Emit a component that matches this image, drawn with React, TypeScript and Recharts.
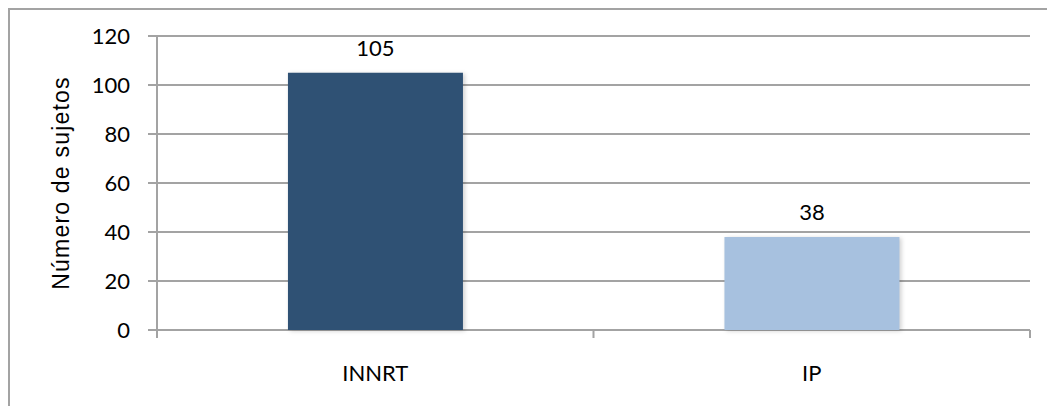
import React from "react";
import { BarChart, Bar, XAxis, YAxis, CartesianGrid, Cell, LabelList, Label } from "recharts";

const categories = ["INNRT", "IP"];
const subjects = [105, 38];
const barColors = ["#2F5174", "#A7C1DF"];
const yTicks = [0, 20, 40, 60, 80, 100, 120];
const yTitle = "Número de sujetos";

const data = categories.map((name, i) => ({ name, value: subjects[i] }));

const GRID = "#A3A3A3";
const FONT = "Lato, 'Open Sans', sans-serif";

const YTitle = (props: any) => {
  const vb = props.viewBox || {};
  const cy = vb.y + vb.height / 2;
  const cx = 61;
  return (
    <text
      x={cx}
      y={cy}
      transform={`rotate(-90, ${cx}, ${cy})`}
      textAnchor="middle"
      dominantBaseline="central"
      fontFamily="'Liberation Sans', Arial, sans-serif"
      fontSize={23}
      letterSpacing={1.2}
      fill="#000"
    >
      {yTitle}
    </text>
  );
};

// Category tick: boundary marks on both sides of the band, label in the middle
const CategoryTick = (props: any) => {
  const { x, y, payload, index } = props;
  const half = payload?.offset ?? 0;
  const last = index === categories.length - 1;
  return (
    <g>
      <line x1={x - half} y1={y} x2={x - half} y2={y + 8} stroke={GRID} strokeWidth={2} />
      {last && <line x1={x + half} y1={y} x2={x + half} y2={y + 8} stroke={GRID} strokeWidth={2} />}
      <text
        x={x}
        y={y + 35}
        dy="0.71em"
        textAnchor="middle"
        fontFamily={FONT}
        fontSize={22}
        fill="#000"
      >
        {payload.value}
      </text>
    </g>
  );
};

export default function App() {
  return (
    <div style={{ width: 1055, height: 414, margin: -8, overflow: "hidden", background: "#fff" }}>
      <BarChart
        width={1055}
        height={414}
        data={data}
        margin={{ top: 36, right: 25, bottom: 44, left: 57 }}
        barCategoryGap="30%"
      >
        {/* outer frame; its right and bottom edges fall outside the canvas */}
        <rect x={9} y={9} width={1200} height={600} fill="none" stroke={GRID} strokeWidth={2} />
        <CartesianGrid vertical={false} stroke={GRID} strokeWidth={2} />
        <XAxis
          dataKey="name"
          height={40}
          interval={0}
          axisLine={false}
          tickLine={false}
          tickSize={0}
          tickMargin={0}
          tick={CategoryTick}
        />
        <YAxis
          width={100}
          domain={[0, 120]}
          ticks={yTicks}
          interval={0}
          axisLine={{ stroke: GRID, strokeWidth: 2 }}
          tickLine={{ stroke: GRID, strokeWidth: 2 }}
          tickSize={9}
          tickMargin={18}
          tick={{ fontFamily: FONT, fontSize: 22, fill: "#000" }}
        >
          <Label content={YTitle} />
        </YAxis>
        <Bar
          dataKey="value"
          isAnimationActive={false}
          style={{ filter: "drop-shadow(2px 1px 2px rgba(0,0,0,0.18))" }}
        >
          {data.map((d, i) => (
            <Cell key={d.name} fill={barColors[i]} />
          ))}
          <LabelList
            dataKey="value"
            position="top"
            offset={17}
            style={{ fontFamily: FONT, fontSize: 22, fill: "#000" }}
          />
        </Bar>
      </BarChart>
    </div>
  );
}
